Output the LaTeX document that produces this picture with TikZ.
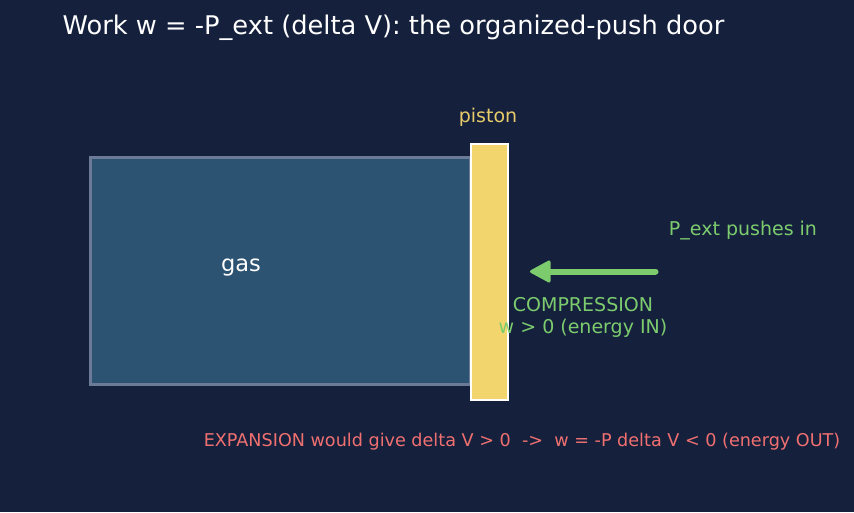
\documentclass[tikz,border=0pt]{standalone}
\usepackage{fontspec}
\setmainfont{DejaVu Sans}
\definecolor{bg}{HTML}{15203D}
\definecolor{gasfill}{HTML}{2C5372}
\definecolor{gasedge}{HTML}{6A7A97}
\definecolor{pist}{HTML}{F3D56E}
\definecolor{pistlbl}{HTML}{E8CC6A}
\definecolor{grn}{HTML}{7CCC6E}
\definecolor{redt}{HTML}{F07070}
\usetikzlibrary{arrows.meta}
\tikzset{
  lbl/.style={inner sep=0pt, font=\fontsize{19}{22}\selectfont},
  arrowhead/.style={fill=grn, draw=grn, line width=3pt, line join=round},
}
\begin{document}
\begin{tikzpicture}[x=1pt,y=-1pt]
\fill[bg] (0,0) rectangle (854,512);
\useasboundingbox (0,0) rectangle (854,512);
\node[inner sep=0pt, text=white, font=\fontsize{25.7}{30}\selectfont] (title) at (393.5,28) {Work w = -P\_ext (delta V): the organized-push door};
\node[draw=gasedge, line width=3pt, fill=gasfill, minimum width=380pt, minimum height=227pt, inner sep=0pt] (gas) at (280,271) {};
\node[text=white, inner sep=0pt, font=\fontsize{22.5}{26}\selectfont] (gaslbl) at (241,268) {gas};
\node[draw=white, line width=2.5pt, fill=pist, minimum width=37pt, minimum height=256pt, inner sep=0pt] (piston) at (489.5,272) {};
\node[lbl, text=pistlbl] (pistlbl) at (488,117) {piston};
\coordinate (astart) at (655.5,271.5);
\coordinate (abase) at (549,271.5);
\coordinate (aend) at (531.5,271.5);
\draw[grn, line width=6pt, line cap=round] (astart) -- (abase);
\path[arrowhead] (aend) -- ([yshift=-9.5pt]abase) -- ([yshift=9.5pt]abase) -- cycle;
\node[lbl, text=grn] (push) at (743,230.5) {P\_ext pushes in};
\node[lbl, text=grn, align=center, font=\fontsize{19}{22}\selectfont] (comp) at (583,317) {COMPRESSION\\w > 0 (energy IN)};
\node[inner sep=0pt, text=redt, font=\fontsize{17.6}{20}\selectfont] (exp) at (522,442) {EXPANSION would give delta V > 0\ \ ->\ \ w = -P delta V < 0 (energy OUT)};
\end{tikzpicture}
\end{document}
